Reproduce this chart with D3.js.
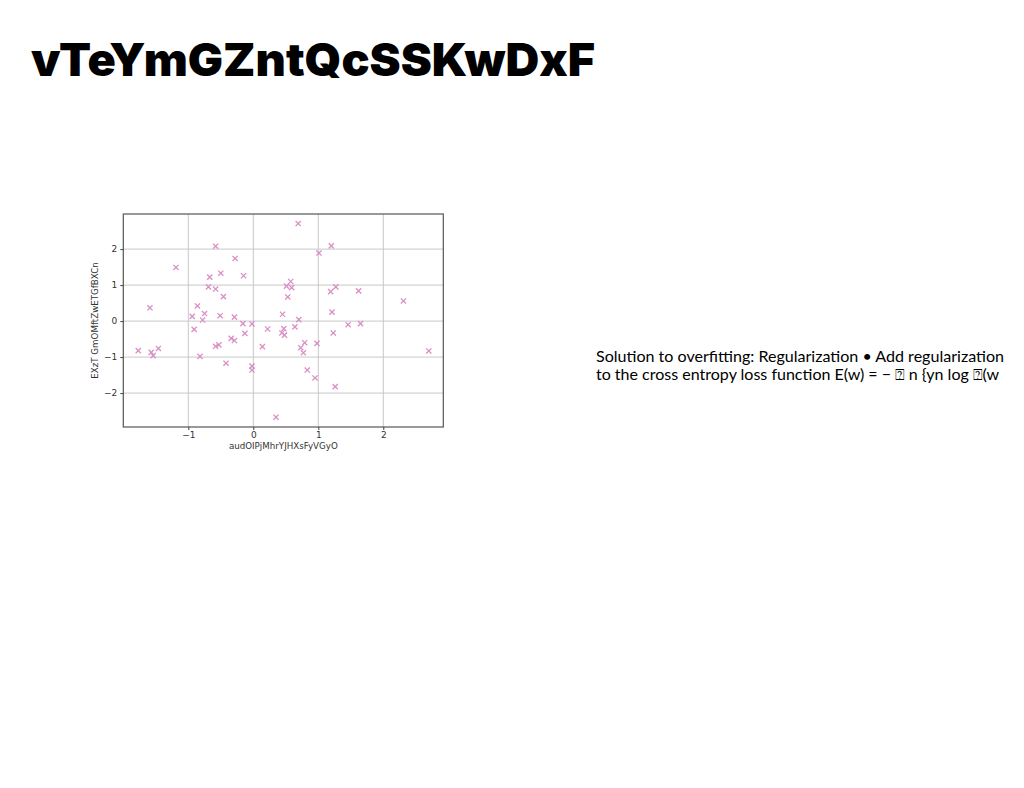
<!DOCTYPE html>
<html>
<head>
<meta charset="utf-8">
<script src="https://cdn.jsdelivr.net/npm/d3@7"></script>
<style>
  html, body { margin: 0; padding: 0; background: #fff; }
  svg { display: block; }
</style>
</head>
<body>
<svg id="chart" width="1024" height="788"></svg>
<script>
const titleText = "vTeYmGZntQcSSKwDxF";
const xLabel = "audOIPjMhrYJHXsFyVGyO";
const yLabel = "EXzT GmOMftZwETGfBXCn";
const bodyLines = [
  "Solution to overfitting: Regularization \u2022 Add regularization",
  "to the cross entropy loss function E(w) = \u2212 \u2370 n {yn log \u2370(w"
];
const xTicks = [-1, 0, 1, 2];
const yTicks = [-2, -1, 0, 1, 2];
const xValues = [-1.19,-0.58,-0.28,-0.67,-0.50,-0.15,-0.69,-0.58,-0.46,-1.59,-0.86,-0.94,-0.75,-0.78,-0.51,-0.29,-0.91,-0.16,-0.02,-0.13,-0.34,-0.29,-0.58,-0.53,0.14,-1.77,-1.57,-1.54,-1.46,-0.82,-0.42,-0.02,-0.02,0.35,0.22,0.69,1.20,1.01,0.575,0.51,0.59,0.53,1.19,1.27,1.62,2.31,1.21,0.45,0.70,0.47,0.44,0.48,0.64,1.23,1.46,1.65,0.79,0.73,0.77,0.98,2.70,0.83,0.95,1.26];
const yValues = [1.49,2.08,1.74,1.22,1.33,1.26,0.95,0.89,0.68,0.37,0.42,0.13,0.21,0.03,0.15,0.11,-0.23,-0.07,-0.08,-0.34,-0.48,-0.54,-0.70,-0.66,-0.71,-0.82,-0.87,-0.96,-0.76,-0.98,-1.17,-1.25,-1.36,-2.67,-0.22,2.71,2.09,1.89,1.10,0.97,0.93,0.67,0.82,0.95,0.84,0.56,0.25,0.19,0.04,-0.21,-0.33,-0.39,-0.16,-0.33,-0.10,-0.07,-0.60,-0.74,-0.88,-0.62,-0.83,-1.36,-1.58,-1.82];

(function () {
const svg = d3.select("#chart");
svg.append("rect").attr("width", 1024).attr("height", 788).attr("fill", "#fff");

// Title
svg.append("text")
  .attr("x", 31).attr("y", 76)
  .attr("font-family", "Inter, 'Liberation Sans', sans-serif")
  .attr("font-weight", 900)
  .attr("font-size", 45)
  .attr("textLength", 564)
  .attr("lengthAdjust", "spacingAndGlyphs")
  .attr("fill", "#000")
  .text(titleText);

// Body text
svg.append("g").selectAll("text").data(bodyLines).join("text")
  .attr("x", 596)
  .attr("y", (d, i) => 362 + i * 18)
  .attr("font-family", "Lato, 'Noto Sans', sans-serif")
  .attr("font-size", 15)
  .attr("fill", "#000")
  .attr("textLength", (d, i) => i === 0 ? 408 : 403)
  .attr("lengthAdjust", "spacingAndGlyphs")
  .text(d => d);

// Plot
const pLeft = 123.3, pRight = 443.3, pTop = 214, pBottom = 427;
const x = d3.scaleLinear().domain([-2.0, 2.923]).range([pLeft, pRight]);
const y = d3.scaleLinear().domain([-2.942, 2.975]).range([pBottom, pTop]);

const g = svg.append("g");

// grid
g.append("g").selectAll("line").data(xTicks).join("line")
  .attr("x1", d => x(d)).attr("x2", d => x(d))
  .attr("y1", pTop).attr("y2", pBottom)
  .attr("stroke", "#c8c8c8").attr("stroke-width", 1);
g.append("g").selectAll("line").data(yTicks).join("line")
  .attr("x1", pLeft).attr("x2", pRight)
  .attr("y1", d => y(d)).attr("y2", d => y(d))
  .attr("stroke", "#c8c8c8").attr("stroke-width", 1);

// points
const pts = xValues.map((v, i) => [v, yValues[i]]);
const s = 2.6;
g.append("g").selectAll("path").data(pts).join("path")
  .attr("d", d => {
    const cx = x(d[0]), cy = y(d[1]);
    return `M${cx - s},${cy - s}L${cx + s},${cy + s}M${cx - s},${cy + s}L${cx + s},${cy - s}`;
  })
  .attr("stroke", "#d98fc6").attr("stroke-width", 1.3).attr("fill", "none");

// frame
g.append("rect")
  .attr("x", pLeft).attr("y", pTop)
  .attr("width", pRight - pLeft).attr("height", pBottom - pTop)
  .attr("fill", "none").attr("stroke", "#555").attr("stroke-width", 1.2);

// axes
const fmt = d3.format("d");
const xAxis = g.append("g").attr("transform", `translate(0,${pBottom})`)
  .call(d3.axisBottom(x).tickValues(xTicks).tickFormat(fmt).tickSize(3).tickPadding(2));
const yAxis = g.append("g").attr("transform", `translate(${pLeft},0)`)
  .call(d3.axisLeft(y).tickValues(yTicks).tickFormat(fmt).tickSize(3).tickPadding(3));
[xAxis, yAxis].forEach(a => {
  a.select(".domain").remove();
  a.selectAll(".tick line").attr("stroke", "#444");
  a.selectAll(".tick text").attr("fill", "#333")
    .attr("font-family", "'DejaVu Sans', sans-serif").attr("font-size", 9);
});

// axis labels
svg.append("text")
  .attr("x", (pLeft + pRight) / 2).attr("y", 449)
  .attr("text-anchor", "middle")
  .attr("font-family", "'DejaVu Sans', sans-serif").attr("font-size", 8.7)
  .attr("fill", "#333")
  .text(xLabel);
svg.append("text")
  .attr("transform", `translate(98,${(pTop + pBottom) / 2}) rotate(-90)`)
  .attr("text-anchor", "middle")
  .attr("font-family", "'DejaVu Sans', sans-serif").attr("font-size", 8.7)
  .attr("fill", "#333")
  .text(yLabel);
})();
</script>
</body>
</html>
